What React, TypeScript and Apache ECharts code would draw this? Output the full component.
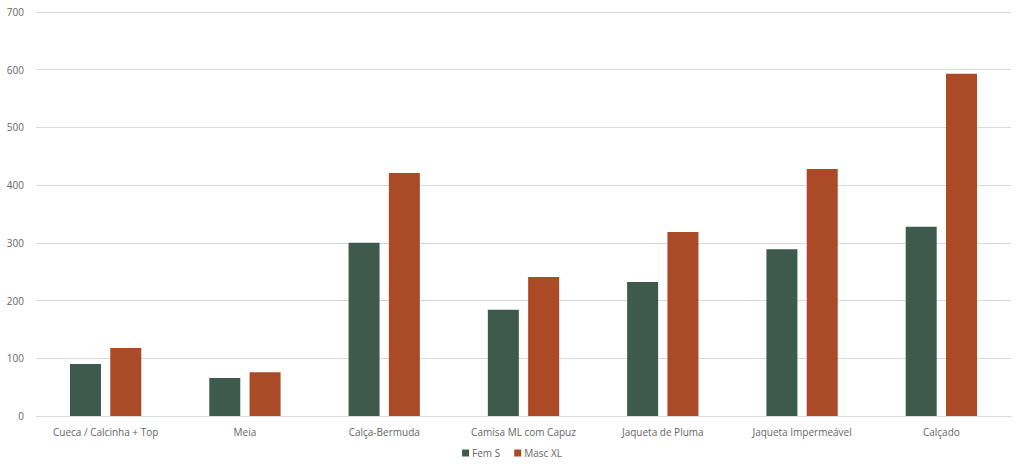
import React, { useEffect, useRef } from 'react';
import * as echarts from 'echarts';

const categories = [
  'Cueca / Calcinha + Top',
  'Meia',
  'Calça-Bermuda',
  'Camisa ML com Capuz',
  'Jaqueta de Pluma',
  'Jaqueta Impermeável',
  'Calçado',
];
const femS = [90, 66, 300, 184, 232, 289, 328];
const mascXL = [118, 76, 421, 241, 319, 428, 593];

const GREEN = '#3d5a4c';
const RED = '#aa4a26';
const FONT = '"Open Sans", sans-serif';
const TEXT = '#666666';

export default function App() {
  const chartRef = useRef<HTMLDivElement>(null);

  useEffect(() => {
    if (!chartRef.current) return;
    const chart = echarts.init(chartRef.current, undefined, { renderer: 'svg' });

    chart.setOption({
      animation: false,
      backgroundColor: '#fff',
      textStyle: { fontFamily: FONT },
      grid: { left: 36, right: 13, top: 12, bottom: 56 },
      legend: {
        bottom: 9,
        left: 'center',
        itemWidth: 7,
        itemHeight: 7,
        itemGap: 14,
        icon: 'rect',
        textStyle: { color: TEXT, fontSize: 10, fontFamily: FONT, padding: [0, 0, 0, -2] },
        data: ['Fem S', 'Masc XL'],
      },
      xAxis: {
        type: 'category',
        data: categories,
        axisLine: { show: true, lineStyle: { color: '#d9d9d9' } },
        axisTick: { show: false },
        axisLabel: { color: TEXT, fontSize: 10, margin: 11, fontFamily: FONT },
      },
      yAxis: {
        type: 'value',
        min: 0,
        max: 700,
        interval: 100,
        axisLine: { show: false },
        axisTick: { show: false },
        axisLabel: { color: TEXT, fontSize: 10, margin: 12, fontFamily: FONT },
        splitLine: { lineStyle: { color: '#d9d9d9', width: 1 } },
      },
      series: [
        {
          name: 'Fem S',
          type: 'bar',
          data: femS,
          barWidth: 31,
          barGap: '30%',
          itemStyle: { color: GREEN },
        },
        {
          name: 'Masc XL',
          type: 'bar',
          data: mascXL,
          barWidth: 31,
          itemStyle: { color: RED },
        },
      ],
    });

    return () => {
      chart.dispose();
    };
  }, []);

  return (
    <div
      ref={chartRef}
      style={{ position: 'fixed', left: 0, top: 0, width: 1024, height: 472 }}
    />
  );
}
